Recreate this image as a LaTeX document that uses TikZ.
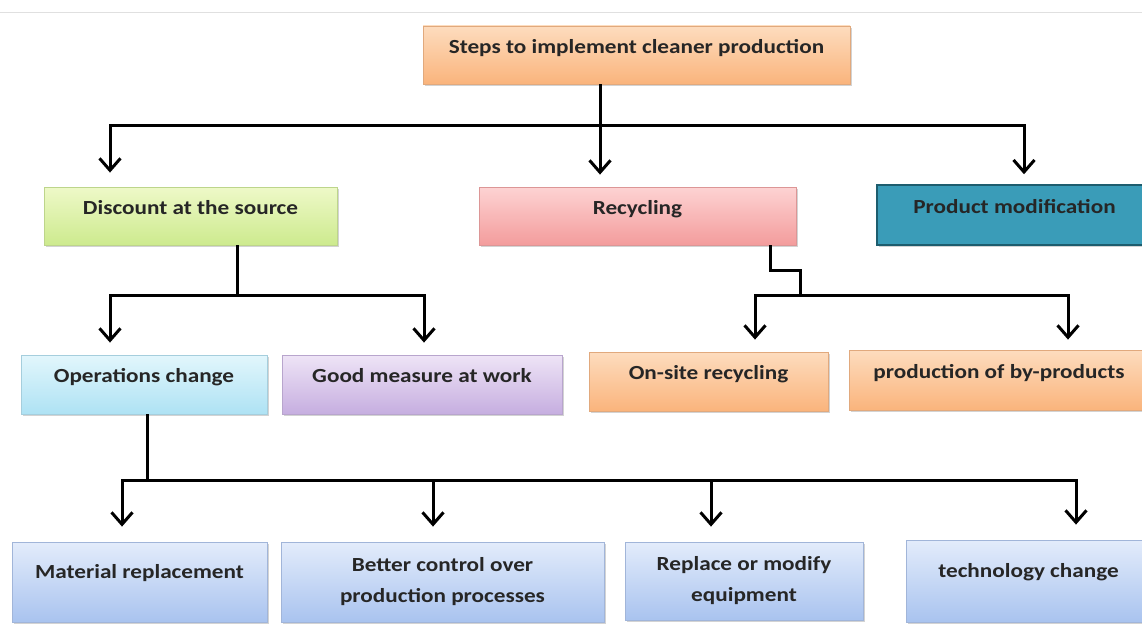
\documentclass[tikz,border=0pt]{standalone}
\usepackage{fontspec}
\setmainfont{Carlito}[FakeStretch=1.16]
\usetikzlibrary{arrows.meta,shadows}

\definecolor{peachT}{HTML}{FDDCBE}
\definecolor{peachB}{HTML}{FAB47C}
\definecolor{greenT}{HTML}{EEF9C8}
\definecolor{greenB}{HTML}{CDEA8E}
\definecolor{pinkT}{HTML}{FDD3D3}
\definecolor{pinkB}{HTML}{F39C9C}
\definecolor{cyanT}{HTML}{E2F6FC}
\definecolor{cyanB}{HTML}{AEE2F4}
\definecolor{lilacT}{HTML}{EEE4F6}
\definecolor{lilacB}{HTML}{C6AEE0}
\definecolor{blueT}{HTML}{E3ECFB}
\definecolor{blueB}{HTML}{A9C3EF}
\definecolor{tealF}{HTML}{3A9CB8}
\definecolor{tealD}{HTML}{1D5D6E}

\tikzset{
  box/.style={rectangle, inner sep=0pt, align=center,
    font=\fontsize{20}{31}\selectfont\bfseries, text=black!85,
    drop shadow={shadow xshift=1.5pt, shadow yshift=-2pt, opacity=0.35}},
  one/.style={text height=14pt, text depth=18pt},
  low/.style={text height=14pt, text depth=22pt},
  tone/.style 2 args={top color=#1, bottom color=#2, draw=#2!80!gray, line width=0.8pt},
  line/.style={line width=3pt},
  arr/.style={line width=3pt, -{Straight Barb[length=12pt,width=21pt]}},
}

\begin{document}
\begin{tikzpicture}[x=1pt, y=-1pt]
  \clip (0,0) rectangle (1142,626);
  \draw[black!12, line width=1pt] (0,13) -- (1142,13);

  % first level
  \node (steps) [box, one, tone={peachT}{peachB}, minimum width=427pt, minimum height=58pt] at (636.5,55) {Steps to implement cleaner production};
  \node (src) [box, one, tone={greenT}{greenB}, minimum width=293pt, minimum height=58pt] at (190.5,216) {Discount at the source};
  \node (rec) [box, one, tone={pinkT}{pinkB}, minimum width=317pt, minimum height=58pt] at (637.5,216) {Recycling};
  \node (mod) [box, one, fill=tealF, draw=tealD, line width=1.5pt, minimum width=275pt, minimum height=60pt] at (1014.5,215) {Product modification};

  % second level
  \node (ops) [box, one, tone={cyanT}{cyanB}, minimum width=246pt, minimum height=59pt] at (144,384.5) {Operations change};
  \node (good) [box, one, tone={lilacT}{lilacB}, minimum width=280pt, minimum height=59pt] at (422,384.5) {Good measure at work};
  \node (site) [box, one, tone={peachT}{peachB}, minimum width=239pt, minimum height=59pt] at (708.5,381.5) {On-site recycling};
  \node (byp) [box, one, tone={peachT}{peachB}, minimum width=300pt, minimum height=60pt] at (999,380) {production of by-products};

  % third level
  \node (mat) [box, low, tone={blueT}{blueB}, minimum width=255pt, minimum height=80pt] at (139.5,582) {Material replacement};
  \node (ctrl) [box, tone={blueT}{blueB}, minimum width=323pt, minimum height=80pt] at (442.5,582) {Better control over\\production processes};
  \node (equip) [box, tone={blueT}{blueB}, minimum width=238pt, minimum height=78pt] at (744,581) {Replace or modify\\equipment};
  \node (tech) [box, low, tone={blueT}{blueB}, minimum width=245pt, minimum height=82pt] at (1028.5,581) {technology change};

  % connectors
  \coordinate (t) at (600,125);
  \coordinate (d) at (237,295);
  \coordinate (r) at (800,295);
  \coordinate (o) at (147,480);

  \draw[line] (steps.south -| t) -- (t);
  \draw[arr, shorten >=14pt] (t) -| ([xshift=-80.5]src.north);
  \draw[arr, shorten >=12pt] (t) -- (t |- rec.north);
  \draw[arr, shorten >=10pt] (t) -| ([xshift=9.5]mod.north);

  \draw[line] ([xshift=46.5]src.south) -- (d);
  \draw[arr, shorten >=12pt] (d) -| ([xshift=-34]ops.north);
  \draw[arr, shorten >=12pt] (d) -| ([xshift=2]good.north);

  \draw[line] ([xshift=132.5]rec.south) -- ++(0,25) -| (r);
  \draw[arr, shorten >=12pt] (r) -| ([xshift=46.5]site.north);
  \draw[arr, shorten >=10pt] (r) -| ([xshift=69]byp.north);

  \draw[line] ([xshift=3]ops.south) -- (o);
  \draw[arr, shorten >=15pt] (o) -| ([xshift=-17.5]mat.north);
  \draw[arr, shorten >=15pt] (o) -| ([xshift=-9.5]ctrl.north);
  \draw[arr, shorten >=15pt] (o) -| ([xshift=-33]equip.north);
  \draw[arr, shorten >=15pt] (o) -| ([xshift=47.5]tech.north);
\end{tikzpicture}
\end{document}
